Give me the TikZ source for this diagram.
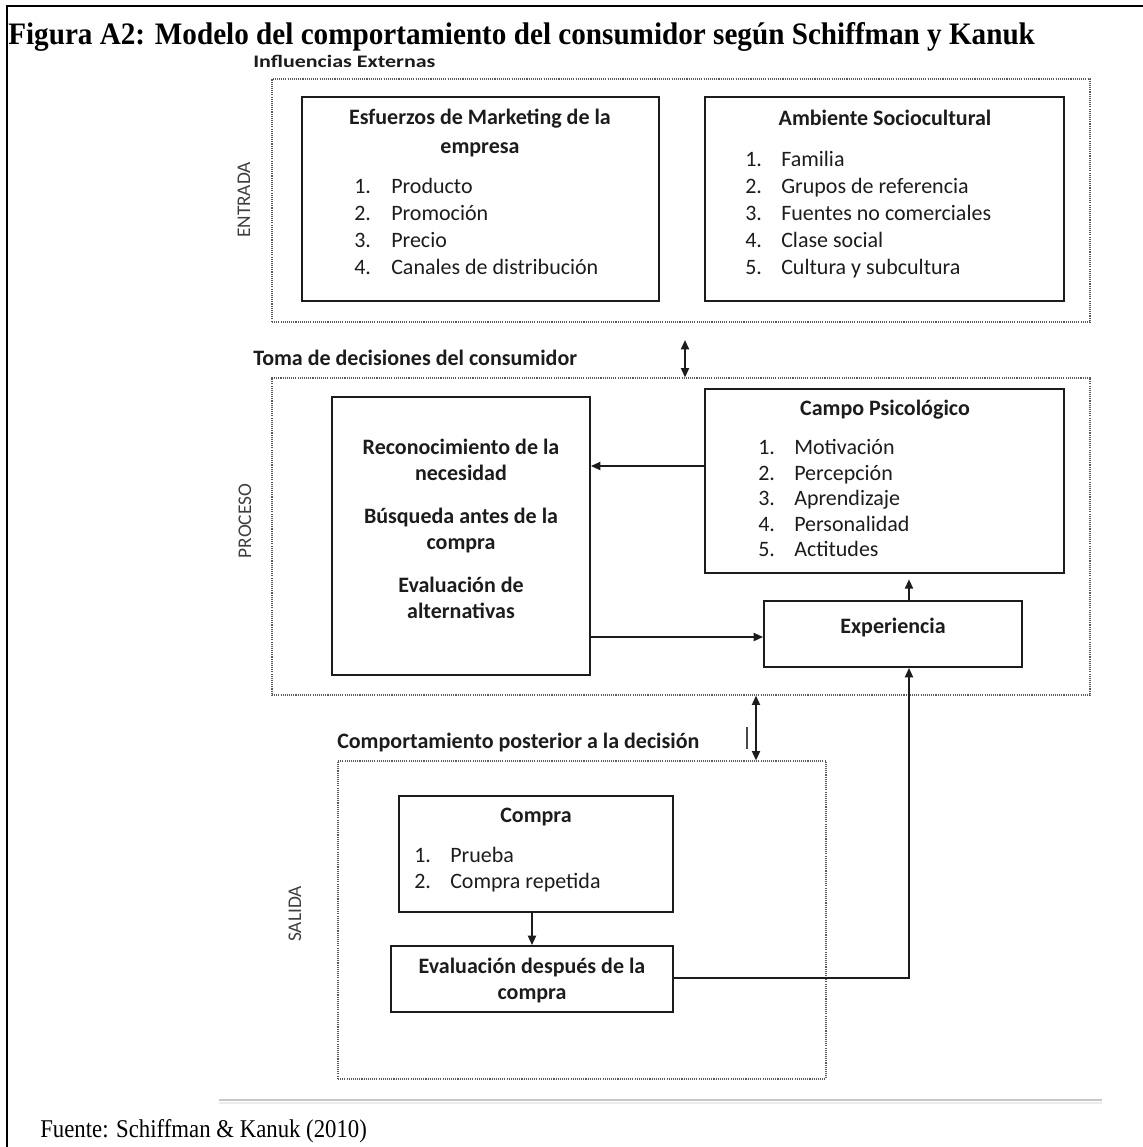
\documentclass[tikz,border=0pt]{standalone}
\usepackage{fontspec}
\setmainfont{Liberation Serif}
\newfontfamily\diag{Carlito}
\usetikzlibrary{arrows.meta,fit}
\definecolor{ink}{RGB}{28,28,28}
\definecolor{zonegray}{RGB}{90,90,90}

\begin{document}
\begin{tikzpicture}[x=0.75pt,y=-0.75pt,
  >={Triangle[length=7pt,width=6pt]},
  zone/.style={draw=zonegray, line width=0.9pt, dash pattern=on 0.8pt off 0.8pt, inner sep=0pt},
  box/.style={draw=ink, line width=1.4pt, inner sep=0pt},
  hd/.style={font=\diag\bfseries\fontsize{16.5pt}{19.5pt}\selectfont, text=ink, inner sep=0pt, align=center},
  lbl/.style={font=\diag\bfseries\fontsize{16.5pt}{19.5pt}\selectfont, text=ink, inner sep=0pt, anchor=west},
  it/.style={font=\diag\fontsize{16.5pt}{19.5pt}\selectfont, text=ink, inner sep=0pt, anchor=west, text height=11pt, text depth=3pt},
  side/.style={font=\diag\fontsize{14.5pt}{17pt}\selectfont, text=ink!85, rotate=90, inner sep=0pt},
  conn/.style={line width=1.4pt, draw=ink, ->},
  dconn/.style={line width=1.4pt, draw=ink, <->}
]
\useasboundingbox (0,0) rectangle (1143,1147);

% page frame and caption
\draw[line width=1.5pt] (7,1147) -- (7,6) -- (1143,6);
\node[anchor=base west, inner sep=0pt] (title) at (8,44)
  {\resizebox{770pt}{16.5pt}{\bfseries Figura A2: Modelo del comportamiento del consumidor según Schiffman y Kanuk}};
\node[anchor=base west, inner sep=0pt] (source) at (40,1137)
  {\resizebox{245pt}{13.5pt}{Fuente: Schiffman \& Kanuk (2010)}};
\draw[draw={rgb,255:red,200;green,200;blue,200}, line width=1.8pt] (219,1100) -- (1102,1100);
\draw[draw={rgb,255:red,236;green,236;blue,236}, line width=2pt] (219,1103) -- (1102,1103);

% ---------- ENTRADA ----------
\node[lbl] (infl) at (253,61) {\scalebox{1}[0.8]{Influencias Externas}};
\node[zone, fit={(272,79) (1090,322)}] (ent) {};
\node[side] (entlab) at (244,200) {ENTRADA};

\node[box, fit={(302,97) (659,301)}] (esf) {};
\node[hd] (esfT) at (480,133) {Esfuerzos de Marketing de la\\[2.5pt]empresa};
\foreach \t [count=\i] in {Producto,Promoción,Precio,Canales de distribución}{
  \node[it] (esfN\i) at (354,{161+27*\i}) {\i.};
  \node[it] (esfI\i) at (391,{161+27*\i}) {\t};
}

\node[box, fit={(705,97) (1064,301)}] (amb) {};
\node[hd] (ambT) at (885,118) {Ambiente Sociocultural};
\foreach \t [count=\i] in {Familia,Grupos de referencia,Fuentes no comerciales,Clase social,Cultura y subcultura}{
  \node[it] (ambN\i) at (745,{134+27*\i}) {\i.};
  \node[it] (ambI\i) at (781,{134+27*\i}) {\t};
}

% ---------- PROCESO ----------
\node[lbl] (toma) at (253,358) {Toma de decisiones del consumidor};
\node[zone, fit={(272,378) (1090,695)}] (proc) {};
\node[side] (proclab) at (245,521) {PROCESO};

\node[box, fit={(332,397) (590,675)}] (recon) {};
\node[hd] (recT) at (461,529) {Reconocimiento de la\\[0pt]necesidad\\[13pt]Búsqueda antes de la\\[0pt]compra\\[13pt]Evaluación de\\[0pt]alternativas};

\node[box, fit={(705,389) (1064,573)}] (campo) {};
\node[hd] (campoT) at (885,410) {Campo Psicológico};
\foreach \t [count=\i] in {Motivación,Percepción,Aprendizaje,Personalidad,Actitudes}{
  \node[it] (campoN\i) at (758,{424+25.5*\i}) {\i.};
  \node[it] (campoI\i) at (794,{424+25.5*\i}) {\t};
}

\node[box, fit={(764,601) (1022,667)}] (exp) {};
\node[hd] (expT) at (893,628) {Experiencia};

% ---------- SALIDA ----------
\node[lbl] (comp) at (337,742) {Comportamiento posterior a la decisión};
\node[zone, fit={(338,761) (826,1079)}] (sal) {};
\node[side] (sallab) at (295,914) {SALIDA};

\node[box, fit={(399,796) (673,912)}] (compra) {};
\node[hd] (compraT) at (536,817) {Compra};
\foreach \t [count=\i] in {Prueba,Compra repetida}{
  \node[it] (compraN\i) at (414,{831+26*\i}) {\i.};
  \node[it] (compraI\i) at (450,{831+26*\i}) {\t};
}

\node[box, fit={(391,946) (673,1012)}] (eval) {};
\node[hd] (evalT) at (532,980) {Evaluación después de la\\[0pt]compra};

% ---------- connectors ----------
\coordinate (gapTop) at (685,340);
\coordinate (bend) at (909,978);
\draw[dconn] (gapTop) -- (proc.north -| gapTop);
\draw[conn] (campo.west |- 0,466) -- (recon.east |- 0,466);
\draw[conn] (recon.east |- 0,637) -- (exp.west |- 0,637);
\draw[conn, shorten >=4pt] (exp.north -| bend) -- (campo.south -| bend);
\draw[dconn] (proc.south -| 756,0) -- (sal.north -| 756,0);
\draw[line width=1.1pt, draw=ink!80] (747,727) -- (747,749);
\draw[conn] (compra.south -| 532,0) -- (eval.north -| 532,0);
\draw[conn] (eval.east |- bend) -- (bend) -- (exp.south -| bend);
\end{tikzpicture}
\end{document}
